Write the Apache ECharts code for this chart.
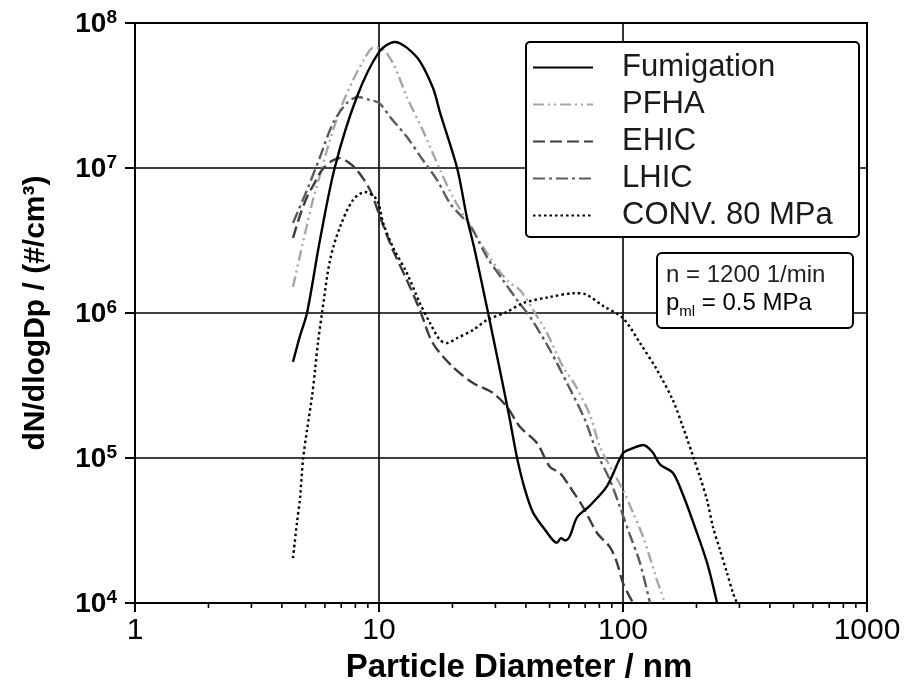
<!DOCTYPE html>
<html>
<head>
<meta charset="utf-8">
<script src="https://cdn.jsdelivr.net/npm/echarts@6/dist/echarts.min.js"></script>
<style>
html,body{margin:0;padding:0;background:#fff;}
#chart{width:919px;height:686px;}
</style>
</head>
<body>
<div id="chart"></div>
<script>
// ---- data (particle diameter in nm, dN/dlogDp in #/cm3) ----
const seriesNames = ['Fumigation', 'PFHA', 'EHIC', 'LHIC', 'CONV. 80 MPa'];

const fumigationD = [4.44,4.75,5.07,5.73,6.60,8.12,10,11.6,14.3,16.6,17.8,20.9,22.9,24.7,28.0,31.9,34.4,36.8,39.7,42.8,47.9,53.6,55.7,57.9,60.6,64.8,73.2,86.0,100,110,121,132,142,160,176,194,221,243];
const fumigationN = [4.6e5,7.0e5,1.0e6,3.2e6,1.02e7,3.1e7,6.3e7,7.4e7,5.8e7,3.6e7,2.4e7,1.0e7,4.6e6,2.7e6,1.0e6,3.45e5,1.83e5,1.0e5,6.0e4,4.2e4,3.2e4,2.6e4,2.8e4,2.7e4,2.9e4,3.9e4,4.7e4,6.4e4,1.08e5,1.17e5,1.23e5,1.10e5,9.0e4,7.9e4,5.6e4,3.6e4,1.9e4,1.0e4];

const pfhaD = [4.44,4.75,5.07,5.36,5.73,6.12,6.92,7.83,8.76,9.45,10.1,11.4,13.0,15.1,17.8,20.1,23.2,27.7,31.3,34.4,37.8,42.8,48.8,56.8,63.6,73.2,80.5,90.1,100,110,121,137.8,148.6];
const pfhaN = [1.51e6,2.51e6,4.05e6,6.02e6,8.95e6,1.33e7,2.51e7,4.04e7,5.74e7,6.72e7,6.72e7,5.30e7,3.09e7,1.83e7,9.7e6,6.31e6,4.18e6,2.59e6,1.92e6,1.61e6,1.44e6,1.05e6,7.28e5,4.24e5,3.19e5,1.98e5,1.19e5,8.26e4,6.02e4,4.18e4,2.85e4,1.44e4,1.0e4];

const ehicD = [4.44,4.75,5.07,5.47,5.84,6.42,6.92,7.46,8.12,9.19,10.1,11.4,13.0,14.7,16.6,20.1,24.3,29.3,33.5,37.8,44.4,50.2,55.2,60.6,68.6,78.3,88.4,94.5,100,110];
const ehicN = [3.29e6,4.74e6,6.31e6,8.0e6,9.7e6,1.12e7,1.17e7,1.10e7,9.7e6,7.05e6,4.59e6,2.72e6,1.69e6,1.05e6,6.21e5,4.24e5,3.29e5,2.81e5,2.25e5,1.64e5,1.27e5,8.67e4,7.88e4,6.31e4,4.59e4,3.04e4,2.43e4,1.89e4,1.37e4,1.0e4];

const lhicD = [4.44,5.07,5.73,6.48,7.39,8.20,9.19,10,11.1,13.0,15.1,17.3,19.5,21.9,23.6,27.7,32.2,36.8,41.6,50.2,59.5,69.9,78.3,88.4,97.2,106.8,117.4,129];
const lhicN = [4.18e6,7.05e6,1.19e7,2.04e7,2.81e7,3.09e7,2.94e7,2.81e7,2.25e7,1.64e7,1.14e7,8.26e6,5.74e6,4.59e6,4.05e6,2.43e6,1.69e6,1.23e6,9.4e5,5.56e5,3.19e5,1.83e5,1.08e5,7.05e4,4.59e4,2.94e4,1.89e4,1.0e4];

const convD = [4.44,4.61,4.75,4.88,5.07,5.31,5.47,5.62,5.84,6.30,6.92,7.83,8.76,9.81,10.4,11.4,13.0,14.7,16.2,17.8,19.0,20.9,24.3,27.7,33.5,38.9,50.2,63.6,69.9,82.8,100,117.4,137.8,160,176,194,206.8,221,233.8,249.8,266.9,282.4,293.2];
const convN = [2.04e4,3.56e4,5.38e4,9.7e4,1.56e5,2.63e5,4.05e5,6.21e5,1.0e6,2.32e6,3.92e6,6.02e6,6.83e6,6.02e6,4.18e6,2.85e6,1.89e6,1.17e6,8.5e5,6.5e5,6.21e5,6.72e5,7.63e5,8.95e5,1.02e6,1.17e6,1.29e6,1.37e6,1.35e6,1.12e6,9.2e5,6.21e5,4.05e5,2.51e5,1.64e5,1.02e5,7.4e4,5.13e4,3.34e4,2.32e4,1.61e4,1.17e4,1.0e4];

const xTickLabels = ['1', '10', '100', '1000'];
const yExponents = [4, 5, 6, 7, 8];
const minorTicksX = [2,3,4,5,6,7,8,9,20,30,40,50,60,70,80,90,200,300,400,500,600,700,800,900];
const noteLine1 = 'n = 1200 1/min';
const noteLine2 = ['p', 'ml', ' = 0.5 MPa'];

// ---- build ----
const zip = (a, b) => a.map((v, i) => [v, b[i]]);
const FONT = 'Arial, "Liberation Sans", Helvetica, sans-serif';

const styles = [
  { color: '#000000', type: 'solid', width: 2.4 },
  { color: '#a6a6a6', type: [11, 4, 2, 4, 2, 4], width: 2.4 },
  { color: '#3c3c3c', type: [12, 5], width: 2.4 },
  { color: '#5c5c5c', type: [12, 4, 3, 4], width: 2.4 },
  { color: '#000000', type: [2.5, 3], width: 2.4 }
];
const dataSets = [zip(fumigationD, fumigationN), zip(pfhaD, pfhaN), zip(ehicD, ehicN), zip(lhicD, lhicN), zip(convD, convN)];

const lineSeries = seriesNames.map((name, i) => ({
  name: name,
  type: 'line',
  data: dataSets[i],
  showSymbol: false,
  symbol: 'none',
  smooth: 0.3,
  lineStyle: { color: styles[i].color, type: styles[i].type, width: styles[i].width },
  itemStyle: { color: styles[i].color },
  z: 3 + (i === 0 ? 2 : 0)
}));

const minorTickSeries = {
  type: 'custom',
  name: 'minorTicks',
  silent: true,
  clip: false,
  data: minorTicksX.map(v => [v, 1e4]),
  renderItem: function (params, api) {
    const p = api.coord([api.value(0), api.value(1)]);
    return {
      type: 'line',
      shape: { x1: p[0], y1: p[1], x2: p[0], y2: p[1] + 5 },
      style: { stroke: '#000', lineWidth: 1.6 }
    };
  },
  z: 6
};

const chart = echarts.init(document.getElementById('chart'), null, { renderer: 'canvas' });

chart.setOption({
  backgroundColor: '#ffffff',
  animation: false,
  textStyle: { fontFamily: FONT },
  grid: {
    left: 135, right: 52, top: 23, bottom: 83,
    show: true, borderColor: '#000', borderWidth: 2, backgroundColor: 'transparent'
  },
  xAxis: {
    type: 'log', logBase: 10, min: 1, max: 1000,
    axisLine: { lineStyle: { color: '#000', width: 2 } },
    axisTick: { show: true, length: 9, lineStyle: { color: '#000', width: 2 } },
    axisLabel: {
      color: '#000', fontSize: 30, fontFamily: FONT, margin: 13,
      formatter: function (v) {
        const k = Math.round(Math.log10(v));
        return xTickLabels[k] !== undefined ? xTickLabels[k] : '';
      }
    },
    splitLine: { show: true, lineStyle: { color: '#000', width: 1.6 } },
    minorTick: { show: false }
  },
  yAxis: {
    type: 'log', logBase: 10, min: 1e4, max: 1e8, splitNumber: 4,
    name: 'dN/dlogDp / (#/cm³)',
    nameLocation: 'middle', nameGap: 84,
    nameTextStyle: { fontSize: 30, fontWeight: 'bold', color: '#000', fontFamily: FONT },
    axisLine: { lineStyle: { color: '#000', width: 2 } },
    axisTick: { show: true, length: 10, lineStyle: { color: '#000', width: 2 } },
    axisLabel: {
      color: '#000', margin: 18, fontFamily: FONT,
      formatter: function (v) {
        const e = Math.round(Math.log10(v));
        return yExponents.indexOf(e) >= 0 ? '{b|10}{s|' + e + '}' : '';
      },
      rich: {
        b: { fontSize: 28, fontWeight: 'bold', color: '#000', fontFamily: FONT, verticalAlign: 'bottom', lineHeight: 30 },
        s: { fontSize: 19, fontWeight: 'bold', color: '#000', fontFamily: FONT, verticalAlign: 'top', lineHeight: 30, padding: [0, 0, 12, 0] }
      }
    },
    splitLine: { show: true, lineStyle: { color: '#000', width: 1.6 } }
  },
  legend: {
    data: seriesNames,
    orient: 'vertical',
    left: 532, top: 49,
    padding: 0,
    itemGap: 0,
    itemWidth: 60,
    itemHeight: 14,
    z: 20,
    itemStyle: { opacity: 0 },
    textStyle: { fontSize: 31, color: '#1a1a1a', fontFamily: FONT, lineHeight: 37, padding: [0, 0, 0, 24] }
  },
  graphic: [
    {
      type: 'rect', z: 15,
      shape: { x: 526, y: 42, width: 333, height: 195, r: 4 },
      style: { fill: '#fff', stroke: '#000', lineWidth: 2 }
    },
    {
      type: 'rect', z: 15,
      shape: { x: 657, y: 253, width: 196, height: 75, r: 5 },
      style: { fill: '#fff', stroke: '#000', lineWidth: 2 }
    },
    {
      type: 'text', z: 16, left: 666, top: 263,
      style: { text: noteLine1, font: '24px ' + FONT, fill: '#222' }
    },
    {
      type: 'text', z: 16, left: 666, top: 291,
      style: {
        text: '{a|' + noteLine2[0] + '}{s|' + noteLine2[1] + '}{a|' + noteLine2[2] + '}',
        rich: {
          a: { fontSize: 24, fontFamily: FONT, color: '#222', verticalAlign: 'top', lineHeight: 28 },
          s: { fontSize: 15, fontFamily: FONT, color: '#222', verticalAlign: 'bottom', lineHeight: 28, padding: [10, 0, 0, 0] }
        }
      }
    },
    {
      type: 'text', z: 16, x: 519, y: 668,
      style: { text: 'Particle Diameter / nm', font: 'bold 33px ' + FONT, fill: '#000', align: 'center', verticalAlign: 'middle' }
    }
  ],
  series: lineSeries.concat([minorTickSeries])
});
</script>
</body>
</html>
